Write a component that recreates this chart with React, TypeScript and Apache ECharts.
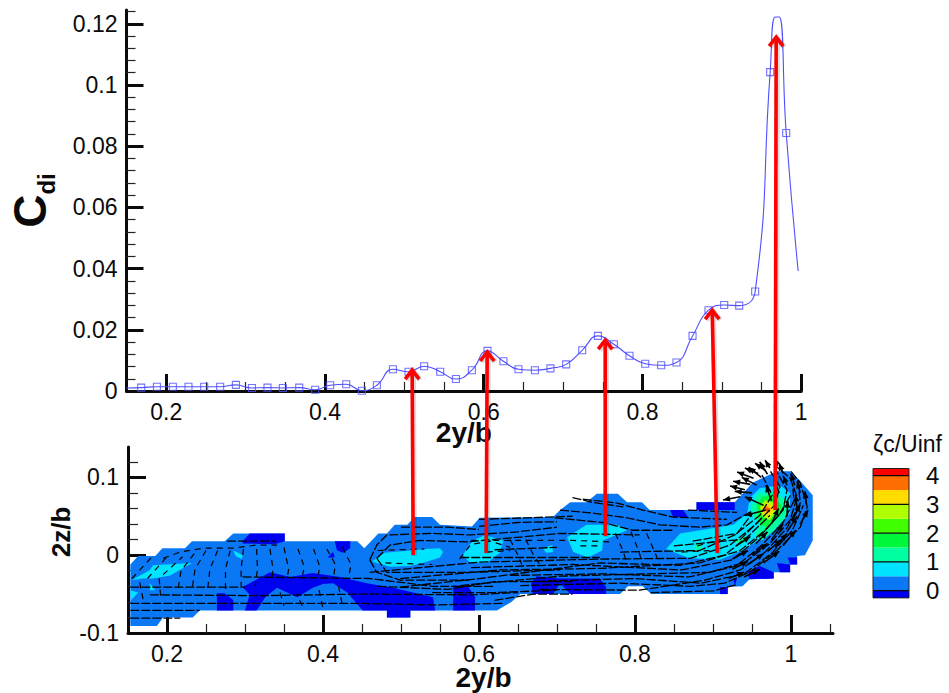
import React, { useEffect, useRef } from "react";
import * as echarts from "echarts";

type Pt = [number, number];

// ---- top plot: spanwise induced drag
const spanX = [.1685,.1883,.2084,.2281,.2479,.268,.2878,.308,.3276,.347,.3676,.3877,.4066,.4268,.4466,.4654,.4856,.5053,.525,.5452,.565,.5851,.6048,.6249,.6438,.6645,.6841,.7039,.7241,.7439,.764,.7837,.8035,.8236,.8429,.8631,.8832,.903,.9219,.942,.9609,.9811];
const cdi = [.0011,.0014,.0014,.0014,.0014,.0014,.002,.001,.0011,.001,.0011,.0004,.0019,.0022,.0001,.0019,.0071,.0063,.0081,.0063,.0039,.0068,.0131,.0097,.0071,.0068,.0074,.0087,.0133,.018,.0153,.0115,.0089,.0084,.0093,.018,.0264,.0281,.0279,.0325,.1042,.0843];
const curveStart: Pt = [.15, .001];
const curvePeak: Pt[] = [[.9672, .1222], [.9723, .1222]];
const curveEnd: Pt = [.9962, .0392];

// ---- axis ticks
const topXMajor = [.2, .4, .6, .8, 1];
const topXMinor = [.25, .3, .35, .45, .5, .55, .65, .7, .75, .85, .9, .95];
const topYMajor = [0, .02, .04, .06, .08, .1, .12];
const topYMinor = [.004,.008,.012,.016,.024,.028,.032,.036,.044,.048,.052,.056,.064,.068,.072,.076,.084,.088,.092,.096,.104,.108,.112,.116,.124];
const lowXMajor = [.2, .4, .6, .8, 1];
const lowXMinor = [.25, .3, .35, .45, .5, .55, .65, .7, .75, .85, .9, .95, 1.05];
const lowYMajor = [-.1, 0, .1];
const lowYMinor = [-.08, -.06, -.04, -.02, .02, .04, .06, .08, .12];

// ---- colour levels of the contour legend
const levelEdges = [-.25, 0, .5, 1, 1.5, 2, 2.5, 3, 3.5, 4, 4.25];
const levelColors = ["#0000f0", "#0a78f5", "#00e4ff", "#00ffa0", "#00f83c", "#40ff00", "#b0ff00", "#ffdc00", "#ff6e00", "#ff0000"];
const legendTicks = [0, 1, 2, 3, 4];
const MID = levelColors[1], DARK = levelColors[0], CYAN = levelColors[2], MINT = levelColors[3], GREEN = levelColors[4], LIME = levelColors[6], YELLOW = levelColors[7], ORANGE = levelColors[8], RED = levelColors[9];

// ---- contour regions (2y/b, 2z/b)
const outline: Pt[] = [[.153,-.012],[.163,-.001],[.185,-.001],[.194,.009],[.223,.009],[.232,.018],[.274,.018],[.285,.028],[.351,.028],[.351,.018],[.444,.018],[.453,.009],[.471,.028],[.482,.028],[.492,.039],[.508,.039],[.518,.049],[.54,.049],[.55,.039],[.591,.037],[.601,.048],[.695,.049],[.704,.058],[.717,.068],[.738,.068],[.751,.079],[.778,.079],[.79,.068],[.809,.068],[.819,.058],[.879,.058],[.879,.068],[.928,.068],[.939,.08],[.951,.093],[.982,.108],[.999,.108],[1.009,.099],[1.028,.077],[1.028,.019],[1.018,0],[1.008,-.001],[1.008,-.012],[.999,-.012],[.999,-.022],[.978,-.022],[.978,-.03],[.947,-.031],[.938,-.04],[.919,-.041],[.919,-.05],[.821,-.05],[.81,-.04],[.791,-.04],[.781,-.05],[.653,-.05],[.642,-.06],[.623,-.071],[.544,-.071],[.512,-.071],[.512,-.08],[.482,-.08],[.482,-.071],[.242,-.071],[.233,-.08],[.195,-.08],[.187,-.091],[.153,-.091]];
const darkPatches: Pt[][] = [
  [[.297,.018],[.306,.028],[.351,.028],[.351,.018],[.338,.014],[.297,.015]],
  [[.415,.018],[.435,.018],[.435,.009],[.426,.003],[.418,.006]],
  [[.406,-.003],[.413,.004],[.415,-.003]],
  [[.297,-.041],[.332,-.022],[.358,-.028],[.387,-.023],[.422,-.028],[.456,-.036],[.49,-.042],[.541,-.054],[.544,-.071],[.512,-.071],[.512,-.08],[.482,-.08],[.482,-.071],[.451,-.071],[.431,-.048],[.413,-.036],[.4,-.037],[.387,-.042],[.367,-.054],[.341,-.042],[.326,-.054],[.315,-.071],[.3,-.071],[.306,-.051]],
  [[.264,-.049],[.274,-.049],[.285,-.058],[.285,-.071],[.264,-.071]],
  [[.567,-.039],[.586,-.04],[.595,-.054],[.595,-.071],[.567,-.071]],
  [[.674,-.027],[.704,-.03],[.755,-.03],[.763,-.041],[.763,-.05],[.717,-.05],[.704,-.036],[.695,-.05],[.669,-.05],[.667,-.036]],
  [[.879,.068],[.928,.068],[.928,.058],[.879,.058]],
  [[.845,.058],[.862,.058],[.868,.049],[.849,.049]],
  [[.944,-.022],[.96,-.014],[.978,-.022],[.978,-.03],[.947,-.031]],
  [[.982,-.01],[.999,-.012],[.999,-.022],[.986,-.022]],
  [[.996,-.003],[1.008,-.003],[1.008,-.012],[.999,-.012]],
  [[.909,-.041],[.919,-.041],[.919,-.05],[.909,-.05]],
  [[.926,-.03],[.931,-.03],[.928,-.039]],
];
const cyanPatches: Pt[][] = [
  [[.155,-.032],[.178,-.019],[.182,-.013],[.232,-.01],[.204,-.026],[.182,-.03],[.169,-.03]],
  [[.285,.006],[.297,0],[.296,-.005],[.288,-.001]],
  [[.153,-.045],[.163,-.048],[.154,-.058]],
  [[.178,-.036],[.185,-.045],[.178,-.045]],
  [[.463,-.008],[.479,.003],[.512,.006],[.531,.008],[.55,.009],[.554,.004],[.55,-.003],[.531,-.009],[.512,-.014],[.486,-.015]],
  [[.579,0],[.592,.019],[.608,.026],[.631,.019],[.627,.003],[.61,-.01],[.588,-.009]],
  [[.713,.023],[.738,.039],[.777,.039],[.79,.032],[.759,.019],[.758,.006],[.74,-.003],[.721,.004]],
  [[.682,.009],[.694,.013],[.695,.004],[.686,.003]],
  [[.84,.008],[.858,.028],[.926,.039],[.944,.054],[.947,.073],[.96,.086],[.986,.09],[.999,.08],[.999,.054],[.973,.028],[.938,.006],[.909,-.006],[.874,-.004],[.867,-.003]],
];
const mintPatches: Pt[][] = [
  [[.95,.064],[.958,.08],[.977,.081],[.995,.071],[.995,.051],[.979,.032],[.963,.019],[.954,.026],[.96,.039],[.951,.051]],
  [[.877,.017],[.886,.013],[.886,.006],[.878,.006]],
  [[.928,.019],[.941,.024],[.945,.018],[.932,.013]],
];
const greenPatch: Pt[] = [[.956,.064],[.963,.075],[.976,.077],[.988,.064],[.986,.051],[.971,.036],[.96,.039],[.958,.051]];
const limePatch: Pt[] = [[.96,.062],[.967,.071],[.977,.068],[.982,.058],[.973,.045],[.964,.049]];
const yellowPatch: Pt[] = [[.963,.06],[.969,.067],[.976,.064],[.977,.055],[.971,.05],[.965,.054]];
const orangePatch: Pt[] = [[.965,.06],[.969,.063],[.974,.06],[.973,.055],[.969,.055]];
const redPatch: Pt[] = [[.968,.059],[.972,.059],[.97,.057]];

// ---- velocity streaks (2y/b, 2z/b)
const longStreaks: Pt[][] = [
  [[.153,-.081],[.217,-.081]],
  [[.153,-.071],[.242,-.071]],
  [[.153,-.062],[.3,-.062],[.45,-.062],[.54,-.064],[.63,-.062]],
  [[.178,-.051],[.32,-.052],[.45,-.05],[.59,-.051],[.65,-.048]],
  [[.653,-.039],[.781,-.036],[.871,-.04],[.915,-.036],[.947,-.022],[.982,.006],[1.012,.036],[1.021,.062],[1.012,.093],[.999,.109]],
  [[.576,-.039],[.704,-.027],[.819,-.024],[.896,-.022],[.941,-.009],[.973,.015],[.999,.045],[1.008,.075],[.999,.099],[.979,.116]],
  [[.499,-.03],[.627,-.019],[.755,-.017],[.883,-.01],[.935,.006],[.967,.032],[.99,.058],[.995,.084],[.979,.112]],
  [[.46,-.022],[.601,-.009],[.755,-.005],[.871,-.004],[.922,.013],[.954,.039],[.979,.064],[.986,.088],[.973,.109]],
  [[.781,.004],[.883,.006],[.928,.026],[.96,.051],[.976,.077],[.963,.103]],
  [[.499,-.041],[.601,-.03],[.755,-.01],[.858,-.013],[.915,0],[.947,.026],[.973,.051]],
  [[.678,-.044],[.806,-.045],[.89,-.032],[.935,-.019],[.967,.004],[.995,.035],[1.012,.067],[1.009,.097]],
  [[.733,.072],[.777,.067],[.81,.058],[.849,.049],[.918,.046]],
  [[.704,.058],[.746,.054],[.79,.048],[.832,.039],[.883,.036],[.918,.039],[.947,.055]],
  [[.697,.048],[.759,.042],[.797,.032],[.849,.032]],
  [[.868,.058],[.931,.055]],
  [[.46,-.006],[.469,.013],[.482,.026],[.541,.028],[.588,.026],[.65,.03],[.7,.036]],
  [[.46,-.006],[.469,-.022],[.499,-.032],[.541,-.032],[.588,-.032]],
  [[.469,-.004],[.486,.013],[.524,.019],[.585,.017],[.704,.028],[.806,.026]],
  [[.469,-.004],[.482,-.022],[.52,-.022],[.585,-.022],[.704,-.019]],
  [[.576,-.003],[.755,-.003]],
  [[.874,.018],[.931,.028],[.951,.054]],
  [[.277,.018],[.34,.018]],
  [[.297,-.028],[.46,-.03],[.54,-.04],[.62,-.04]],
  [[.153,-.041],[.3,-.041]],
  [[.72,.074],[.745,.068],[.785,.062]],
  [[.6,.037],[.65,.042],[.7,.043]],
  [[.5,.036],[.56,.036],[.6,.033]],
  [[.62,-.058],[.67,-.05],[.72,-.05]],
  [[.82,-.048],[.9,-.046],[.93,-.038]],
  [[.62,.007],[.7,.01]],
  [[.85,.012],[.935,.02],[.965,.05]],
  [[.59,-.016],[.72,-.012],[.86,-.019],[.925,-.006],[.958,.022],[.985,.052],[1,.078]],
  [[.64,-.026],[.76,-.024],[.87,-.028],[.93,-.014],[.962,.012],[.99,.042],[1.004,.07],[1.002,.092]],
  [[.66,-.034],[.8,-.03],[.885,-.036],[.94,-.024],[.975,.002],[1.002,.032],[1.016,.064]],
  [[.54,-.048],[.62,-.048],[.7,-.045]],
  [[.47,-.04],[.56,-.044],[.62,-.034],[.72,-.034]],
  [[.6,.046],[.66,.048],[.72,.05]],
];
const shortStreaks: Pt[][] = [
  [[.59,.019],[.72,.019],[.77,.017]],
  [[.575,-.005],[.59,.014],[.615,.018],[.64,.01]],
  [[.195,-.004],[.217,.004],[.246,.009],[.285,.009],[.315,.013],[.341,.013]],
  [[.235,.002],[.218,-.02],[.214,-.045]],
  [[.25,.006],[.236,-.018],[.232,-.045]],
  [[.265,.006],[.255,-.018],[.252,-.045]],
  [[.281,.006],[.275,-.018],[.275,-.045]],
  [[.298,.008],[.295,-.018],[.295,-.04]],
  [[.315,.008],[.316,-.018],[.313,-.04]],
  [[.332,.008],[.336,-.018],[.334,-.035]],
  [[.35,.01],[.356,-.018],[.354,-.03]],
  [[.368,.008],[.376,-.015],[.374,-.025]],
  [[.388,.008],[.396,-.015],[.394,-.025]],
  [[.405,.008],[.416,-.012],[.414,-.025]],
  [[.425,.01],[.436,-.012],[.433,-.028]],
  [[.155,-.03],[.18,-.003]],
  [[.175,-.03],[.2,-.002]],
  [[.195,-.025],[.22,-.002]],
  [[.165,-.035],[.17,-.06]],
  [[.19,-.03],[.192,-.055]],
  [[.345,-.048],[.35,-.065]],
  [[.37,-.058],[.375,-.068]],
  [[.395,-.045],[.4,-.068]],
  [[.42,-.04],[.425,-.065]],
  [[.795,.03],[.805,.005],[.81,-.012]],
  [[.815,.028],[.825,.005],[.832,-.012]],
  [[.775,.028],[.785,.005],[.79,-.012]],
  [[.88,.012],[.91,.02]],
  [[.86,.004],[.9,.006]],
  [[.61,.004],[.64,.006]],
  [[.73,.012],[.755,.012]],
  [[.66,.02],[.67,0],[.678,-.012]],
  [[.64,.02],[.65,0],[.655,-.012]],
  [[.47,.006],[.53,.008]],
  [[.48,-.01],[.54,-.012]],
];
const vectors: [number, number, number, number][] = [
  [.935,.075,.913,.071],[.941,.084,.922,.089],[.948,.091,.926,.095],[.952,.099,.931,.107],[.958,.105,.941,.112],[.967,.109,.954,.118],[.973,.112,.967,.122],[.983,.115,.979,.125],
  [.968,.058,.941,.051],[.965,.064,.941,.075],
  [.95,.08,.928,.082],[.956,.09,.937,.1],[.962,.1,.946,.113],[.97,.104,.96,.12],
  [1.005,.09,1,.105],[1.02,.065,1.018,.082],[1.012,.04,1.022,.058],[.99,.012,1.006,.032],[.965,-.01,.985,.005],[.94,-.028,.96,-.018],
  [.995,.09,.99,.102],[1.008,.06,1.006,.078],[.995,.03,1.008,.05],[.97,.005,.988,.02],[.945,-.012,.965,.002],
  [.985,.08,.978,.098],[.995,.05,.996,.07],[.975,.02,.99,.04],[.95,0,.97,.015],
  [.975,.07,.968,.09],[.975,.04,.984,.06],[.955,.015,.97,.03],[.99,.105,.985,.118],
  [.92,-.03,.94,-.022],[.925,-.018,.945,-.008],[.925,-.005,.945,.006],[.93,.012,.948,.024],
  [1.012,.08,1.008,.095],[1.002,.045,1.012,.065],[.98,.01,.995,.028],
];

// ---- red annotation arrows, in the top plot's scale: tail then head
const annotationArrows: [number, number, number, number][] = [
  [.5112,-.0536,.5099,.0075],
  [.6031,-.0529,.6044,.0134],
  [.7531,-.0474,.7531,.0173],
  [.8942,-.0529,.8879,.0271],
  [.9672,-.0389,.9685,.1163],
];

const regions: { pts: Pt[]; color: string }[] = [
  { pts: outline, color: MID },
  ...darkPatches.map((pts) => ({ pts, color: DARK })),
  ...cyanPatches.map((pts) => ({ pts, color: CYAN })),
  ...mintPatches.map((pts) => ({ pts, color: MINT })),
  { pts: greenPatch, color: GREEN },
  { pts: limePatch, color: LIME },
  { pts: yellowPatch, color: YELLOW },
  { pts: orangePatch, color: ORANGE },
  { pts: redPatch, color: RED },
];

const FONT = "'Liberation Sans', Arial, sans-serif";
const INK = "#0a0a0a";
const BLUE = "#4f4fff";

function majorAxis(gridIndex: number, min: number, max: number, position: string, values: number[], tickLen: number, margin: number, extra: any = {}) {
  return {
    type: "value", gridIndex, min, max, position, scale: true,
    axisLine: { show: true, onZero: false, lineStyle: { color: INK, width: 3 } },
    axisTick: { show: true, inside: true, length: tickLen, customValues: values, lineStyle: { color: INK, width: 3 } },
    axisLabel: { show: true, customValues: values, margin, color: INK, fontFamily: FONT, fontSize: 23 },
    splitLine: { show: false },
    ...extra,
  };
}
function minorAxis(gridIndex: number, min: number, max: number, position: string, values: number[], tickLen: number) {
  return {
    type: "value", gridIndex, min, max, position, scale: true,
    axisLine: { show: false, onZero: false },
    axisTick: { show: true, inside: true, length: tickLen, customValues: values, lineStyle: { color: "#222", width: 1.2 } },
    axisLabel: { show: false },
    splitLine: { show: false },
  };
}
const polylineOf = (points: number[][], stroke: string, lineWidth: number, lineDash?: number[]) => ({
  type: "polyline", silent: true,
  shape: { points },
  style: { stroke, fill: "none", lineWidth, lineDash, lineJoin: "round" },
});

export default function App() {
  const ref = useRef<HTMLDivElement>(null);
  useEffect(() => {
    const chart = echarts.init(ref.current!, undefined, { renderer: "svg" });
    const curve: Pt[] = [curveStart];
    spanX.forEach((x, i) => {
      if (i === spanX.length - 1) curve.push(...curvePeak);
      curve.push([x, cdi[i]]);
    });
    curve.push(curveEnd);
    const bands = levelColors.map((c, i) => [0, levelEdges[i], 1, levelEdges[i + 1]]);
    chart.setOption({
      animation: false,
      backgroundColor: "#fff",
      grid: [
        { left: 126.5, top: 10, width: 674.7, height: 381, outerBoundsMode: "none" },
        { left: 128, top: 447, width: 705, height: 186, outerBoundsMode: "none" },
        { left: 873, top: 469, width: 36, height: 129, outerBoundsMode: "none" },
      ],
      xAxis: [
        majorAxis(0, .15, 1, "bottom", topXMajor, 17, 9, {
          name: "2y/b", nameLocation: "middle", nameGap: 27, nameMoveOverlap: false,
          nameTextStyle: { color: INK, fontFamily: FONT, fontWeight: "bold", fontSize: 28 },
        }),
        minorAxis(0, .15, 1, "bottom", topXMinor, 9),
        majorAxis(1, .15, 1.054, "bottom", lowXMajor, 18, 9, {
          name: "2y/b", nameLocation: "middle", nameGap: 30, nameMoveOverlap: false,
          nameTextStyle: { color: INK, fontFamily: FONT, fontWeight: "bold", fontSize: 28, padding: [0, 0, 0, 6] },
        }),
        minorAxis(1, .15, 1.054, "bottom", lowXMinor, 9),
        { type: "value", gridIndex: 2, min: 0, max: 1, show: false },
      ],
      yAxis: [
        majorAxis(0, 0, .1245, "left", topYMajor, 17, 9, {
          name: "{c|C}{d|di}", nameLocation: "middle", nameGap: 68, nameRotate: 90, nameMoveOverlap: false,
          nameTextStyle: {
            rich: {
              c: { fontFamily: FONT, fontWeight: "bold", fontSize: 46, color: INK },
              d: { fontFamily: FONT, fontWeight: "bold", fontSize: 24, color: INK, padding: [34, 0, 0, 0] },
            },
          },
        }),
        minorAxis(0, 0, .1245, "left", topYMinor, 9),
        majorAxis(1, -.1, .139, "left", lowYMajor, 18, 9, {
          name: "2z/b", nameLocation: "middle", nameGap: 54, nameRotate: 90, nameMoveOverlap: false,
          nameTextStyle: { color: INK, fontFamily: FONT, fontWeight: "bold", fontSize: 26, padding: [0, 0, 0, 16] },
        }),
        minorAxis(1, -.1, .139, "left", lowYMinor, 10),
        {
          type: "value", gridIndex: 2, min: -.254, max: 4.233, position: "right",
          axisLine: { show: false },
          axisTick: { show: false },
          axisLabel: { show: true, customValues: legendTicks, margin: 17, color: INK, fontFamily: FONT, fontSize: 24, padding: [7, 0, 0, 0] },
          splitLine: { show: false },
        },
      ],
      graphic: [{
        type: "text", left: 873, top: 432, silent: true,
        style: { text: "ζc/Uinf", fill: INK, font: `23px ${FONT}` },
      }],
      series: [
        {
          type: "line", xAxisIndex: 0, yAxisIndex: 0, data: curve, showSymbol: false, symbol: "none",
          smooth: .5, silent: true, clip: false,
          lineStyle: { color: BLUE, width: 1.1 }, z: 3,
        },
        {
          type: "scatter", xAxisIndex: 0, yAxisIndex: 0, data: spanX.map((x, i) => [x, cdi[i]]),
          symbol: "rect", symbolSize: 7, silent: true, clip: false,
          itemStyle: { color: "rgba(255,255,255,0)", borderColor: BLUE, borderWidth: 1.1 }, z: 4,
        },
        {
          type: "custom", xAxisIndex: 2, yAxisIndex: 2, silent: true, z: 2,
          data: regions.map((r) => r.pts[0]),
          renderItem: (p: any, api: any) => ({
            type: "polygon",
            shape: { points: regions[p.dataIndex].pts.map((q) => api.coord(q)) },
            style: { fill: regions[p.dataIndex].color },
          }),
        },
        {
          type: "custom", xAxisIndex: 2, yAxisIndex: 2, silent: true, z: 3,
          data: longStreaks.map((s) => s[0]),
          renderItem: (p: any, api: any) => polylineOf(longStreaks[p.dataIndex].map((q) => api.coord(q)), "#000", 1.3, [9, 2]),
        },
        {
          type: "custom", xAxisIndex: 2, yAxisIndex: 2, silent: true, z: 3,
          data: shortStreaks.map((s) => s[0]),
          renderItem: (p: any, api: any) => polylineOf(shortStreaks[p.dataIndex].map((q) => api.coord(q)), "#000", 1.2, [6, 5]),
        },
        {
          type: "custom", xAxisIndex: 2, yAxisIndex: 2, silent: true, z: 4,
          data: vectors.map((v) => [v[0], v[1]]),
          renderItem: (p: any, api: any) => {
            const v = vectors[p.dataIndex];
            const a = api.coord([v[0], v[1]]);
            const b = api.coord([v[2], v[3]]);
            const t = Math.atan2(b[1] - a[1], b[0] - a[0]);
            const h = 7, w = 3;
            const back = [b[0] - h * Math.cos(t), b[1] - h * Math.sin(t)];
            return {
              type: "group",
              children: [
                polylineOf([a, b], "#000", 1.6),
                {
                  type: "polygon",
                  shape: { points: [b, [back[0] - w * Math.sin(t), back[1] + w * Math.cos(t)], [back[0] + w * Math.sin(t), back[1] - w * Math.cos(t)]] },
                  style: { fill: "#000" },
                },
              ],
            };
          },
        },
        {
          type: "custom", xAxisIndex: 4, yAxisIndex: 4, silent: true, z: 1,
          data: bands,
          encode: { x: [0, 2], y: [1, 3] },
          renderItem: (p: any, api: any) => {
            const a = api.coord([api.value(0), api.value(3)]);
            const b = api.coord([api.value(2), api.value(1)]);
            return { type: "rect", shape: { x: a[0], y: a[1], width: b[0] - a[0], height: b[1] - a[1] }, style: { fill: levelColors[p.dataIndex] } };
          },
        },
        {
          type: "custom", xAxisIndex: 4, yAxisIndex: 4, silent: true, z: 2,
          data: legendTicks.map((v) => [0, v]),
          renderItem: (p: any, api: any) => polylineOf([api.coord([0, api.value(1)]), api.coord([1, api.value(1)])], INK, 1.2),
        },
        {
          type: "custom", xAxisIndex: 4, yAxisIndex: 4, silent: true, z: 2,
          data: [[0, levelEdges[0], 1, levelEdges[levelEdges.length - 1]]],
          encode: { x: [0, 2], y: [1, 3] },
          renderItem: (p: any, api: any) => {
            const a = api.coord([api.value(0), api.value(3)]);
            const b = api.coord([api.value(2), api.value(1)]);
            return { type: "rect", shape: { x: a[0], y: a[1], width: b[0] - a[0], height: b[1] - a[1] }, style: { fill: "none", stroke: "#222", lineWidth: 1 } };
          },
        },
        {
          type: "custom", xAxisIndex: 0, yAxisIndex: 0, silent: true, z: 20, clip: false,
          data: annotationArrows.map((v) => [v[2], v[3]]),
          renderItem: (p: any, api: any) => {
            const v = annotationArrows[p.dataIndex];
            const a = api.coord([v[0], v[1]]);
            const b = api.coord([v[2], v[3]]);
            const tip = [b[0], b[1] + 2];
            const left = [b[0] - 7, b[1] + 11];
            const right = [b[0] + 7, b[1] + 11];
            const line = (points: number[][], stroke: string, lineWidth: number, dx: number) => ({
              type: "polyline", x: dx, y: dx, shape: { points },
              style: { stroke, fill: "none", lineWidth, lineJoin: "miter", lineCap: "butt" },
            });
            return {
              type: "group",
              children: [
                line([a, tip], "rgba(0,0,0,.14)", 5.5, 1),
                line([left, tip, right], "rgba(0,0,0,.14)", 5.5, 1),
                line([a, tip], "#ff0000", 3.6, 0),
                line([left, tip, right], "#ff0000", 3.6, 0),
              ],
            };
          },
        },
      ],
    });
    return () => chart.dispose();
  }, []);
  return <div ref={ref} style={{ position: "fixed", left: 0, top: 0, width: 949, height: 693 }} />;
}
